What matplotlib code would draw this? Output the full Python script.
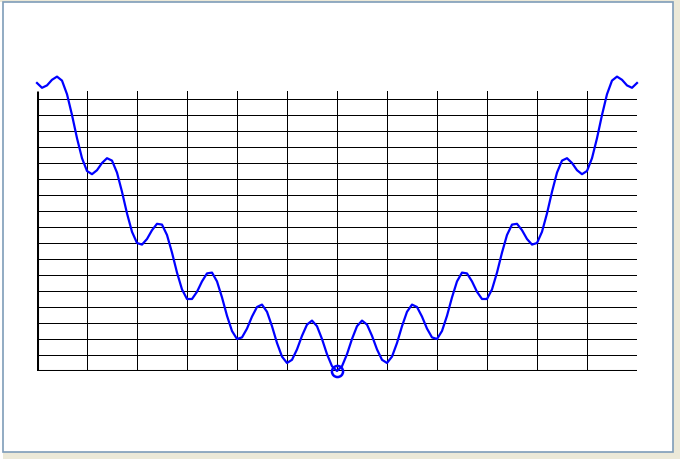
import matplotlib
matplotlib.use("Agg")
import matplotlib.pyplot as plt
from matplotlib.patches import Rectangle

# x positions (units, -6 .. 6, step 0.1)
x_vals = [-6.0, -5.9, -5.8, -5.7, -5.6, -5.5, -5.4, -5.3, -5.2, -5.1,
          -5.0, -4.9, -4.8, -4.7, -4.6, -4.5, -4.4, -4.3, -4.2, -4.1,
          -4.0, -3.9, -3.8, -3.7, -3.6, -3.5, -3.4, -3.3, -3.2, -3.1,
          -3.0, -2.9, -2.8, -2.7, -2.6, -2.5, -2.4, -2.3, -2.2, -2.1,
          -2.0, -1.9, -1.8, -1.7, -1.6, -1.5, -1.4, -1.3, -1.2, -1.1,
          -1.0, -0.9, -0.8, -0.7, -0.6, -0.5, -0.4, -0.3, -0.2, -0.1,
          0.0,
          0.1, 0.2, 0.3, 0.4, 0.5, 0.6, 0.7, 0.8, 0.9, 1.0,
          1.1, 1.2, 1.3, 1.4, 1.5, 1.6, 1.7, 1.8, 1.9, 2.0,
          2.1, 2.2, 2.3, 2.4, 2.5, 2.6, 2.7, 2.8, 2.9, 3.0,
          3.1, 3.2, 3.3, 3.4, 3.5, 3.6, 3.7, 3.8, 3.9, 4.0,
          4.1, 4.2, 4.3, 4.4, 4.5, 4.6, 4.7, 4.8, 4.9, 5.0,
          5.1, 5.2, 5.3, 5.4, 5.5, 5.6, 5.7, 5.8, 5.9, 6.0]

# curve values
y_vals = [36.0, 35.4, 35.7, 36.4, 36.8, 36.3, 34.6, 32.0, 29.1, 26.6,
          25.0, 24.6, 25.1, 26.0, 26.6, 26.3, 24.8, 22.4, 19.7, 17.4,
          16.0, 15.8, 16.5, 17.6, 18.4, 18.3, 17.0, 14.8, 12.3, 10.2,
          9.0, 9.0, 9.9, 11.2, 12.2, 12.3, 11.2, 9.2, 6.9, 5.0,
          4.0, 4.2, 5.3, 6.8, 8.0, 8.3, 7.4, 5.6, 3.5, 1.8,
          1.0, 1.4, 2.7, 4.4, 5.8, 6.3, 5.6, 4.0, 2.1, 0.6,
          0.0,
          0.6, 2.1, 4.0, 5.6, 6.3, 5.8, 4.4, 2.7, 1.4, 1.0,
          1.8, 3.5, 5.6, 7.4, 8.3, 8.0, 6.8, 5.3, 4.2, 4.0,
          5.0, 6.9, 9.2, 11.2, 12.3, 12.2, 11.2, 9.9, 9.0, 9.0,
          10.2, 12.3, 14.8, 17.0, 18.3, 18.4, 17.6, 16.5, 15.8, 16.0,
          17.4, 19.7, 22.4, 24.8, 26.3, 26.6, 26.0, 25.1, 24.6, 25.0,
          26.6, 29.1, 32.0, 34.6, 36.3, 36.8, 36.4, 35.7, 35.4, 36.0]

min_point = (0.0, 0.0)

x_grid = [-5, -4, -3, -2, -1, 0, 1, 2, 3, 4, 5]
y_grid = [2, 4, 6, 8, 10, 12, 14, 16, 18, 20, 22, 24, 26, 28, 30, 32, 34]
x_min, x_max = -6, 6
y_min, y_max = 0, 35

W, H = 680, 460
fig = plt.figure(figsize=(W / 100, H / 100), dpi=100, facecolor="#ECE9D8")

# white panel with blue border
fig.patches.append(Rectangle((0, 0), 2.5 / W, 1 - 3 / H, transform=fig.transFigure,
                             facecolor="white", edgecolor="none", zorder=-10))
fig.patches.append(Rectangle((2.5 / W, 7 / H), 670.5 / W, 450 / H, transform=fig.transFigure,
                             facecolor="white", edgecolor="#7F9DB9", linewidth=1.2, zorder=-10))

ax = fig.add_axes([37 / W, (H - 372) / H, 600 / W, 280 / H])
ax.set_zorder(5)
ax.set_xlim(x_min, x_max)
ax.set_ylim(y_min, y_max)
ax.axis("off")
ax.patch.set_alpha(0)

for gy in y_grid:
    ax.plot([x_min, x_max], [gy, gy], color="black", lw=0.45, solid_capstyle="butt",
            antialiased=False, zorder=1)
for gx in x_grid:
    ax.plot([gx, gx], [y_min, y_max], color="black", lw=0.45, solid_capstyle="butt",
            antialiased=False, zorder=1)
# axes
ax.plot([x_min, x_min], [y_min, y_max], color="black", lw=2.2, solid_capstyle="butt", zorder=2)
ax.plot([x_min, x_max], [y_min, y_min], color="black", lw=2.2, solid_capstyle="butt", zorder=2)

ax.plot(x_vals, y_vals, color="#0000FF", lw=1.6, clip_on=False, zorder=3)
ax.plot([min_point[0]], [min_point[1]], marker="o", markersize=8, markerfacecolor="none",
        markeredgecolor="#0000FF", markeredgewidth=1.8, clip_on=False, zorder=4)

fig.savefig("out.png", dpi=100, facecolor=fig.get_facecolor())
